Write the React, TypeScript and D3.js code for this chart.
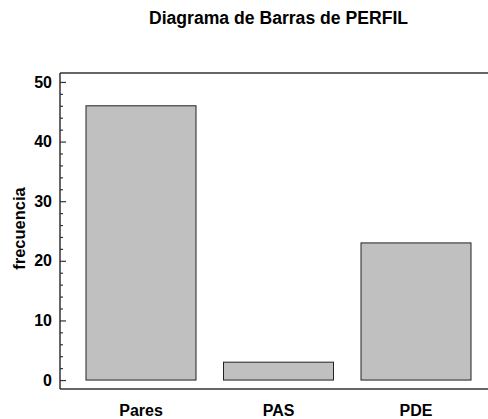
import React, { useEffect, useRef } from 'react';
import * as d3 from 'd3';

const categories = ['Pares', 'PAS', 'PDE'];
const frecuencias = [46, 3, 23];
const majorTicks = [0, 10, 20, 30, 40, 50];
const minorTicks = d3.range(0, 51, 2).filter(v => v % 10 !== 0);

const W = 488;
const H = 419;
const FONT = '"Liberation Sans", Arial, sans-serif';

const App = () => {
  const ref = useRef<SVGSVGElement | null>(null);

  useEffect(() => {
    if (!ref.current) return;
    const svg = d3.select(ref.current);
    svg.selectAll('*').remove();

    const left = 60, top = 73, bottom = 389;

    const x = d3.scaleBand<string>()
      .domain(categories)
      .range([58.5, 498.5])
      .paddingInner(0.2)
      .paddingOuter(0.2);

    const y = d3.scaleLinear().domain([-1.5, 51.5]).range([bottom, top]);

    // title
    svg.append('text')
      .attr('x', 278.5)
      .attr('y', 24)
      .attr('text-anchor', 'middle')
      .attr('font-family', FONT)
      .attr('font-weight', 'bold')
      .attr('font-size', 17.6)
      .text('Diagrama de Barras de PERFIL');

    // bars
    svg.selectAll('.bar')
      .data(frecuencias)
      .enter()
      .append('rect')
      .attr('class', 'bar')
      .attr('x', (d, i) => x(categories[i])!)
      .attr('width', x.bandwidth())
      .attr('y', d => y(d))
      .attr('height', d => y(0) - y(d))
      .attr('fill', '#c0c0c0')
      .attr('stroke', '#222')
      .attr('stroke-width', 1);

    // frame lines
    const frame = svg.append('g').attr('stroke', '#333').attr('stroke-width', 1.5);
    frame.append('line').attr('x1', left).attr('x2', W).attr('y1', top).attr('y2', top);
    frame.append('line').attr('x1', left).attr('x2', W).attr('y1', bottom).attr('y2', bottom);
    frame.append('line').attr('x1', left).attr('x2', left).attr('y1', top).attr('y2', bottom);

    // y axis
    const yAxis = svg.append('g').attr('transform', `translate(${left},0)`);
    yAxis.call(d3.axisLeft(y).tickValues(majorTicks).tickSize(-6).tickPadding(8).tickFormat(d3.format('d')));
    yAxis.select('.domain').remove();
    yAxis.selectAll('.tick line').attr('stroke', '#333').attr('stroke-width', 1.2);
    yAxis.selectAll('.tick text')
      .attr('font-family', FONT)
      .attr('font-weight', 'bold')
      .attr('font-size', 16)
      .attr('fill', '#000');

    const yMinor = svg.append('g').attr('transform', `translate(${left},0)`);
    yMinor.call(d3.axisLeft(y).tickValues(minorTicks).tickSize(-3).tickFormat(() => ''));
    yMinor.select('.domain').remove();
    yMinor.selectAll('.tick line').attr('stroke', '#333').attr('stroke-width', 1.2);

    // x labels
    svg.selectAll('.xlab')
      .data(categories)
      .enter()
      .append('text')
      .attr('x', d => x(d)! + x.bandwidth() / 2)
      .attr('y', 415.5)
      .attr('text-anchor', 'middle')
      .attr('font-family', FONT)
      .attr('font-weight', 'bold')
      .attr('font-size', 16)
      .text(d => d);

    // y label
    svg.append('text')
      .attr('transform', `translate(25,228.5) rotate(-90)`)
      .attr('text-anchor', 'middle')
      .attr('font-family', FONT)
      .attr('font-weight', 'bold')
      .attr('font-size', 16.5)
      .text('frecuencia');
  }, []);

  return (
    <svg
      ref={ref}
      width={W}
      height={H}
      style={{ position: 'absolute', left: 0, top: 0, background: '#fff' }}
    />
  );
};

export default App;
